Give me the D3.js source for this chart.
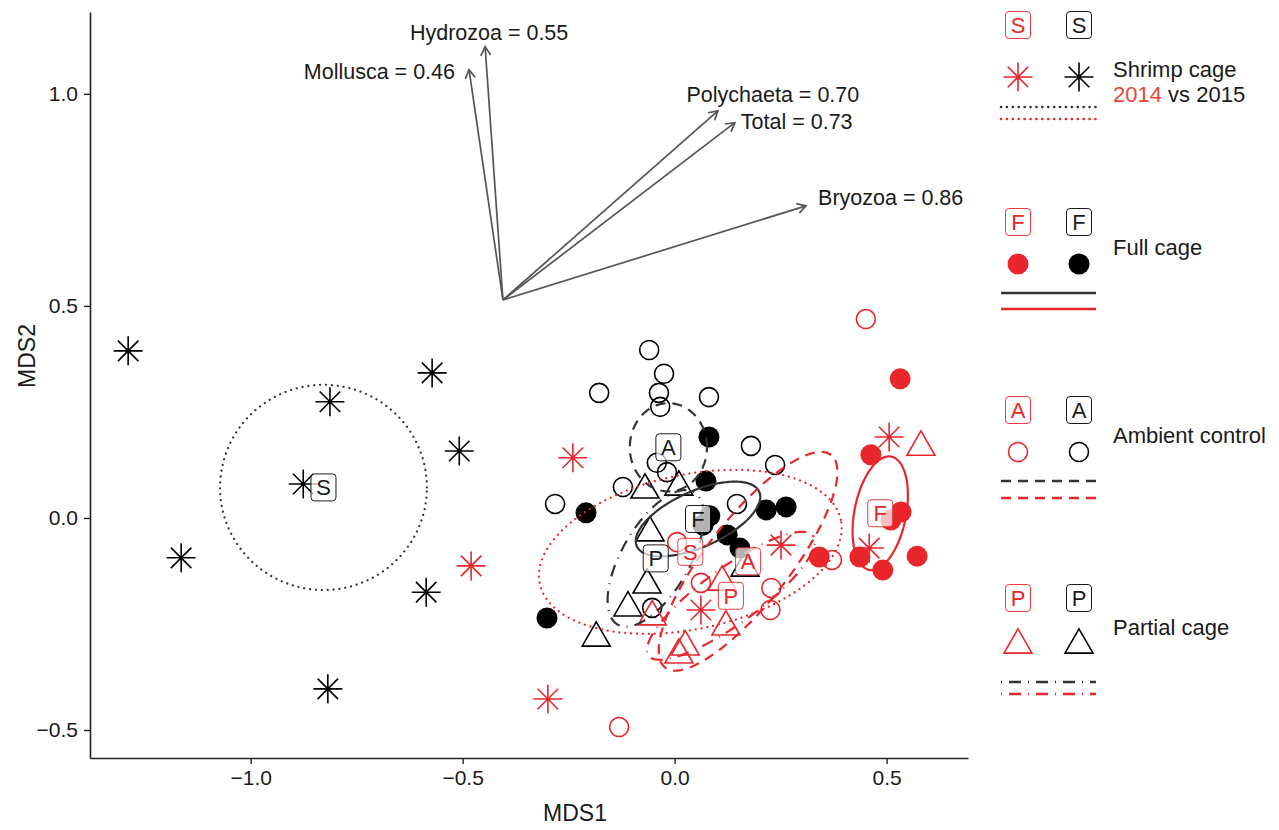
<!DOCTYPE html>
<html><head><meta charset="utf-8">
<script src="https://cdn.jsdelivr.net/npm/d3@7"></script>
<style>
body{margin:0;background:#fff}
svg{display:block}
text{font-family:"Liberation Sans",Arial,Helvetica,sans-serif}
</style>
</head><body>
<svg id="chart" width="1279" height="830"></svg>
<script>
// ---------------- DATA ----------------
const groupNames = ["Shrimp cage", "Full cage", "Ambient control", "Partial cage"];
const groupLetters = ["S", "F", "A", "P"];
const years = ["2014", "2015"];

// NMDS scores [MDS1, MDS2]
const shrimp2014 = [[-0.240,0.142],[-0.480,-0.113],[-0.299,-0.427],[0.506,0.191],[0.459,-0.071],[0.251,-0.064],[0.062,-0.217]];
const shrimp2015 = [[-1.289,0.394],[-0.813,0.274],[-0.572,0.342],[-0.508,0.158],[-0.876,0.080],[-1.164,-0.094],[-0.586,-0.175],[-0.818,-0.403]];
const full2014 = [[0.532,0.328],[0.463,0.149],[0.534,0.014],[0.510,-0.005],[0.572,-0.090],[0.437,-0.092],[0.491,-0.123],[0.341,-0.092]];
const full2015 = [[0.081,0.191],[0.074,0.087],[-0.209,0.012],[0.083,0.005],[0.216,0.019],[0.263,0.026],[0.124,-0.040],[0.154,-0.071],[-0.301,-0.236],[0.067,-0.017]];
const ambient2014 = [[0.451,0.469],[0.371,-0.099],[-0.131,-0.493],[0.006,-0.057],[0.062,-0.153],[0.228,-0.165],[0.226,-0.217]];
const ambient2015 = [[-0.060,0.396],[-0.025,0.340],[-0.178,0.295],[-0.037,0.295],[0.081,0.285],[-0.034,0.262],[0.180,0.170],[-0.042,0.130],[-0.018,0.108],[-0.122,0.073],[-0.282,0.033],[0.237,0.125],[0.147,0.033],[-0.053,-0.212]];
const partial2014 = [[-0.053,-0.233],[0.112,-0.151],[0.121,-0.257],[0.025,-0.304],[0.010,-0.323],[0.581,0.167]];
const partial2015 = [[-0.070,0.066],[0.010,0.073],[-0.058,-0.035],[-0.065,-0.158],[-0.110,-0.212],[-0.185,-0.283],[0.166,-0.118]];

// ellipse semi-axes (MDS units) and rotation (degrees)
const ellipseA     = {shrimp2014:0.363, shrimp2015:0.244, full2014:0.136, full2015:0.158, ambient2014:0.318, ambient2015:0.091, partial2014:0.240, partial2015:0.180};
const ellipseB     = {shrimp2014:0.182, shrimp2015:0.242, full2014:0.061, full2015:0.066, ambient2014:0.099, ambient2015:0.104, partial2014:0.066, partial2015:0.080};
const ellipseAngle = {shrimp2014:12, shrimp2015:0, full2014:79, full2015:24, ambient2014:52, ambient2015:0, partial2014:36, partial2015:60};

// fitted vectors
const vectorNames = ["Mollusca", "Hydrozoa", "Polychaeta", "Total", "Bryozoa"];
const vectorR     = [0.46, 0.55, 0.70, 0.73, 0.86];
const vectorX     = [-0.485, -0.447, 0.102, 0.142, 0.310];
const vectorY     = [1.057, 1.111, 0.960, 0.932, 0.736];
const vectorOrigin = [-0.405, 0.514];

const xTicks = [-1.0, -0.5, 0.0, 0.5];
const yTicks = [-0.5, 0.0, 0.5, 1.0];

// ---------------- LAYOUT / STYLE ----------------
const RED = "#e8262b", BLACK = "#000", DARK = "#333", TXT = "#1a1a1a";
const svg = d3.select("#chart");
const x = d3.scaleLinear().domain([-1.379, 0.692]).range([90, 968]);
const y = d3.scaleLinear().domain([-0.566, 1.193]).range([758, 12]);

const sets = {
  shrimp2014:{pts:shrimp2014, col:RED, shape:"asterisk", dash:"dotted", letter:"S"},
  shrimp2015:{pts:shrimp2015, col:BLACK, shape:"asterisk", dash:"dotted", letter:"S"},
  full2014:{pts:full2014, col:RED, shape:"filled", dash:"solid", letter:"F"},
  full2015:{pts:full2015, col:BLACK, shape:"filled", dash:"solid", letter:"F"},
  ambient2014:{pts:ambient2014, col:RED, shape:"open", dash:"dashed", letter:"A"},
  ambient2015:{pts:ambient2015, col:BLACK, shape:"open", dash:"dashed", letter:"A"},
  partial2014:{pts:partial2014, col:RED, shape:"triangle", dash:"dotdash", letter:"P"},
  partial2015:{pts:partial2015, col:BLACK, shape:"triangle", dash:"dotdash", letter:"P"}
};
const dashArr = {dotted:"0.1,5.8", solid:null, dashed:"10,7", dotdash:"1,7,12,7"};
const dashCap = {dotted:"round", solid:"butt", dashed:"butt", dotdash:"butt"};

function drawSymbol(g, shape, col) {
  if (shape === "asterisk") {
    const r = 14.5;
    let d = "";
    for (let k = 0; k < 4; k++) {
      const a = k * Math.PI / 4;
      d += `M${-r*Math.cos(a)},${-r*Math.sin(a)}L${r*Math.cos(a)},${r*Math.sin(a)}`;
    }
    g.append("path").attr("d", d).attr("stroke", col).attr("stroke-width", 1.6).attr("fill", "none");
  } else if (shape === "open") {
    g.append("circle").attr("r", 9.5).attr("fill", "none").attr("stroke", col).attr("stroke-width", 1.6);
  } else if (shape === "filled") {
    g.append("circle").attr("r", 10.5).attr("fill", col);
  } else if (shape === "triangle") {
    g.append("path").attr("d", "M0,-16.2L14,8.1L-14,8.1Z").attr("fill", "none").attr("stroke", col).attr("stroke-width", 1.6);
  }
}
function drawLabel(g, letter, col) {
  g.append("rect").attr("x", -12.5).attr("y", -13.5).attr("width", 25).attr("height", 27).attr("rx", 3.5)
    .attr("fill", "#fff").attr("fill-opacity", 0.7).attr("stroke", col).attr("stroke-width", 0.9);
  g.append("text").attr("text-anchor", "middle").attr("dy", "0.36em").attr("font-size", 22)
    .attr("fill", col === RED ? RED : TXT).text(letter);
}
function ellipsePoints(cx, cy, a, b, angDeg) {
  const th = angDeg * Math.PI / 180, pts = [];
  for (let i = 0; i < 180; i++) {
    const t = i / 180 * 2 * Math.PI;
    pts.push([cx + a*Math.cos(th)*Math.cos(t) - b*Math.sin(th)*Math.sin(t),
              cy + a*Math.sin(th)*Math.cos(t) + b*Math.cos(th)*Math.sin(t)]);
  }
  return pts;
}

// ---------------- AXES ----------------
const fmt = d3.format(".1f");
const gx = svg.append("g").attr("transform", `translate(0,${y.range()[0]})`)
  .call(d3.axisBottom(x).tickValues(xTicks).tickFormat(fmt).tickSizeInner(6).tickSizeOuter(0).tickPadding(6));
const gy = svg.append("g").attr("transform", `translate(${x.range()[0]},0)`)
  .call(d3.axisLeft(y).tickValues(yTicks).tickFormat(fmt).tickSizeInner(6).tickSizeOuter(0).tickPadding(6));
[gx, gy].forEach(g => {
  g.select(".domain").attr("stroke", "#222").attr("stroke-width", 1.6);
  g.selectAll(".tick line").attr("stroke", "#222").attr("stroke-width", 1.4);
  g.selectAll(".tick text").attr("font-size", 21).attr("fill", TXT).attr("font-family", "Liberation Sans, Arial, sans-serif");
});
svg.append("text").attr("x", 575).attr("y", 821).attr("text-anchor", "middle").attr("font-size", 23).attr("fill", TXT).text("MDS1");
svg.append("text").attr("transform", "translate(35,356) rotate(-90)").attr("text-anchor", "middle").attr("font-size", 23).attr("fill", TXT).text("MDS2");

// ---------------- VECTORS ----------------
const vecPlace = [
  {anchor:"end", dx:-14, dy:2},
  {anchor:"middle", dx:4, dy:-15},
  {anchor:"middle", dx:55, dy:-17},
  {anchor:"start", dx:6, dy:-1},
  {anchor:"start", dx:12, dy:-9}
];
const gv = svg.append("g");
vectorNames.forEach((nm, i) => {
  const x0 = x(vectorOrigin[0]), y0 = y(vectorOrigin[1]);
  const x1 = x(vectorX[i]), y1 = y(vectorY[i]);
  const ang = Math.atan2(y1 - y0, x1 - x0), L = 10, h = Math.PI / 6;
  gv.append("line").attr("x1", x0).attr("y1", y0).attr("x2", x1).attr("y2", y1)
    .attr("stroke", "#555").attr("stroke-width", 1.7);
  gv.append("path").attr("d", `M${x1 - L*Math.cos(ang - h)},${y1 - L*Math.sin(ang - h)}L${x1},${y1}L${x1 - L*Math.cos(ang + h)},${y1 - L*Math.sin(ang + h)}`)
    .attr("stroke", "#555").attr("stroke-width", 1.7).attr("fill", "none");
  gv.append("text").attr("x", x1 + vecPlace[i].dx).attr("y", y1 + vecPlace[i].dy).attr("dy", "0.36em")
    .attr("text-anchor", vecPlace[i].anchor).attr("font-size", 21.5).attr("fill", TXT)
    .text(`${nm} = ${d3.format(".2f")(vectorR[i])}`);
});

// ---------------- POINTS ----------------
const order = ["shrimp2015","full2015","ambient2015","partial2015","shrimp2014","full2014","ambient2014","partial2014"];
const gp = svg.append("g");
order.forEach(k => {
  const s = sets[k];
  s.pts.forEach(p => {
    const g = gp.append("g").attr("transform", `translate(${x(p[0])},${y(p[1])})`);
    drawSymbol(g, s.shape, s.col);
  });
});

// ---------------- ELLIPSES ----------------
const line = d3.line().x(d => x(d[0])).y(d => y(d[1])).curve(d3.curveLinearClosed);
const ge = svg.append("g");
order.forEach(k => {
  const s = sets[k];
  const cx = d3.mean(s.pts, d => d[0]), cy = d3.mean(s.pts, d => d[1]);
  ge.append("path").attr("d", line(ellipsePoints(cx, cy, ellipseA[k], ellipseB[k], ellipseAngle[k])))
    .attr("fill", "none").attr("stroke", s.col === RED ? RED : DARK).attr("stroke-width", 2.2)
    .attr("stroke-dasharray", dashArr[s.dash]).attr("stroke-linecap", dashCap[s.dash]);
});

// ---------------- CENTROID LABELS ----------------
const gl = svg.append("g");
order.forEach(k => {
  const s = sets[k];
  const cx = d3.mean(s.pts, d => d[0]), cy = d3.mean(s.pts, d => d[1]);
  const g = gl.append("g").attr("transform", `translate(${x(cx)},${y(cy)})`);
  drawLabel(g, s.letter, s.col);
});

// ---------------- LEGEND ----------------
const legX = [1018, 1079], legTextX = 1113;
const legRows = [
  {label:25, sym:77, l1:107, l2:119, text:69},
  {label:222, sym:264, l1:293, l2:309, text:247},
  {label:410, sym:452, l1:481, l2:498, text:435},
  {label:598, sym:645, l1:682, l2:694, text:627}
];
const keys = ["shrimp", "full", "ambient", "partial"];
const gleg = svg.append("g");
keys.forEach((k, i) => {
  const row = legRows[i];
  [k + "2014", k + "2015"].forEach((kk, j) => {
    const s = sets[kk];
    drawLabel(gleg.append("g").attr("transform", `translate(${legX[j]},${row.label})`), s.letter, s.col);
    drawSymbol(gleg.append("g").attr("transform", `translate(${legX[j]},${row.sym})`), s.shape, s.col);
  });
  const s = sets[k + "2015"];
  [[row.l1, DARK], [row.l2, RED]].forEach(([yy, c]) => {
    gleg.append("line").attr("x1", 1001).attr("x2", 1096).attr("y1", yy).attr("y2", yy)
      .attr("stroke", c).attr("stroke-width", 2.6)
      .attr("stroke-dasharray", dashArr[s.dash]).attr("stroke-linecap", dashCap[s.dash]);
  });
  gleg.append("text").attr("x", legTextX).attr("y", row.text).attr("dy", "0.36em")
    .attr("font-size", 22).attr("fill", TXT).text(groupNames[i]);
  if (i === 0) {
    const t2 = gleg.append("text").attr("x", legTextX).attr("y", row.text + 25).attr("dy", "0.36em")
      .attr("font-size", 22).attr("fill", TXT);
    t2.append("tspan").attr("fill", "#e8453c").text(years[0]);
    t2.append("tspan").text(" vs " + years[1]);
  }
});
</script>
</body></html>
